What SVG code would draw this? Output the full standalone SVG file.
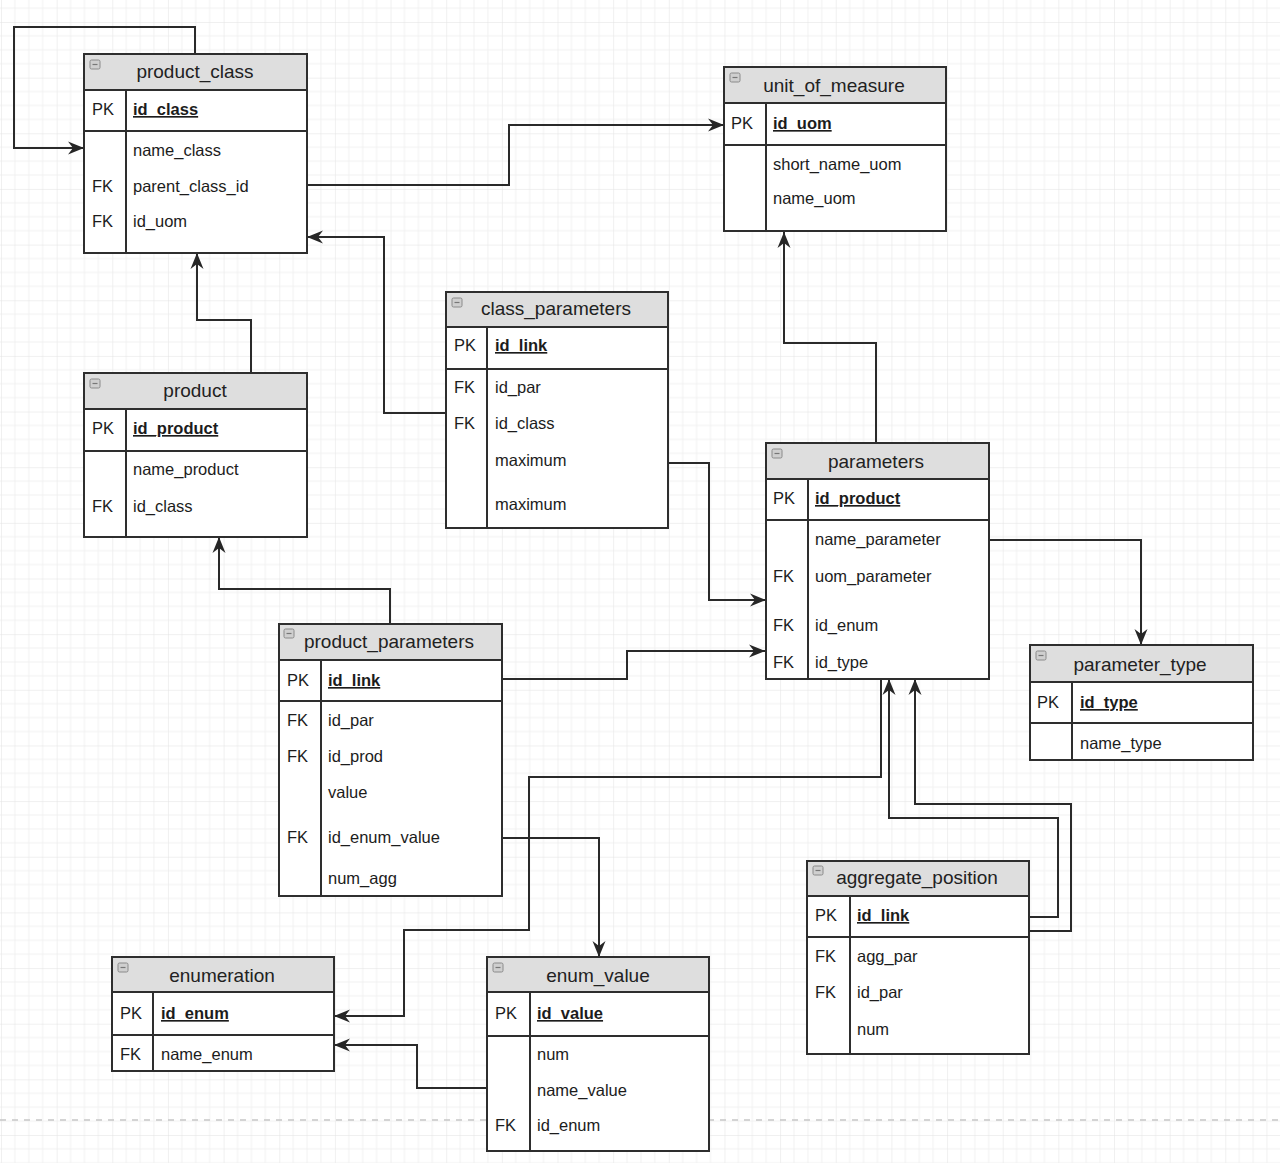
<svg xmlns="http://www.w3.org/2000/svg" width="1280" height="1163" viewBox="0 0 1280 1163">
<defs>
<pattern id="grid" patternUnits="userSpaceOnUse" x="1" y="22" width="55.65" height="55.65">
<path d="M13.9 0V55.65M27.8 0V55.65M41.7 0V55.65M0 13.9H55.65M0 27.8H55.65M0 41.7H55.65" stroke="#f1f1f1" stroke-width="1" fill="none"/>
<path d="M0 0V55.65M0 0H55.65" stroke="#e2e2e2" stroke-width="1" fill="none"/>
</pattern>
<marker id="arr" markerUnits="userSpaceOnUse" markerWidth="17" markerHeight="14" refX="16" refY="7" orient="auto">
<path d="M0,0.5 L16,7 L0,13.5 L5,7 Z" fill="#262626"/>
</marker>
<style>
.body{fill:#ffffff;stroke:none}
.hdr{fill:#dedede;stroke:none}
.frame{fill:none;stroke:#2e2e2e;stroke-width:2}
.ln{stroke:#2e2e2e;stroke-width:2;fill:none}
.icon{fill:#cfcfcf;stroke:#8a8a8a;stroke-width:1}
.iconm{stroke:#777;stroke-width:1.2}
.title{font-family:"Liberation Sans",Arial,sans-serif;font-size:19px;fill:#222;text-anchor:middle}
.f{font-family:"Liberation Sans",Arial,sans-serif;font-size:16.5px;fill:#1c1c1c}
.pk{font-weight:bold;text-decoration:underline}
.conn path{fill:none;stroke:#2a2a2a;stroke-width:2;marker-end:url(#arr)}
</style>
</defs>
<rect x="0" y="0" width="1280" height="1163" fill="#ffffff"/>
<rect x="0" y="0" width="1280" height="1163" fill="url(#grid)"/>
<line x1="0" y1="1120" x2="1280" y2="1120" stroke="#c6c6c6" stroke-width="1.6" stroke-dasharray="6 6"/>

<g id="connectors" class="conn">
<path d="M195 54V27H14V148H84"/>
<path d="M307 185H509V125H724"/>
<path d="M446 413H384V237H307"/>
<path d="M668 463H709V600H766"/>
<path d="M251 373V320H197V253"/>
<path d="M390 624V589H219V537"/>
<path d="M502 679H627V651H765"/>
<path d="M876 443V343H784V232"/>
<path d="M989 540H1141V645"/>
<path d="M881 679V777H529V930H404V1016H334"/>
<path d="M502 838H599V957"/>
<path d="M487 1088H417V1045H334"/>
<path d="M1029 917H1058V818H889V679"/>
<path d="M1029 931H1071V804H915V679"/>
</g>

<g id="product_class">
<rect class="body" x="84" y="54" width="223" height="199"/>
<rect class="hdr" x="84" y="54" width="223" height="36"/>
<rect class="frame" x="84" y="54" width="223" height="199"/>
<path class="ln" d="M84 90H307M84 131H307M126 90V253"/>
<rect class="icon" x="90" y="60" width="10" height="9" rx="1.5"/><line class="iconm" x1="92.5" y1="64.5" x2="97.5" y2="64.5"/>
<text class="title" x="195" y="78">product_class</text>
<text class="f" x="92" y="115">PK</text><text class="f pk" x="133" y="115">id_class</text>
<text class="f" x="133" y="156">name_class</text>
<text class="f" x="92" y="192">FK</text><text class="f" x="133" y="192">parent_class_id</text>
<text class="f" x="92" y="227">FK</text><text class="f" x="133" y="227">id_uom</text>
</g>

<g id="unit_of_measure">
<rect class="body" x="724" y="67" width="222" height="164"/>
<rect class="hdr" x="724" y="67" width="222" height="36"/>
<rect class="frame" x="724" y="67" width="222" height="164"/>
<path class="ln" d="M724 103H946M724 145H946M766 103V231"/>
<rect class="icon" x="730" y="73" width="10" height="9" rx="1.5"/><line class="iconm" x1="732.5" y1="77.5" x2="737.5" y2="77.5"/>
<text class="title" x="834" y="92">unit_of_measure</text>
<text class="f" x="731" y="129">PK</text><text class="f pk" x="773" y="129">id_uom</text>
<text class="f" x="773" y="170">short_name_uom</text>
<text class="f" x="773" y="204">name_uom</text>
</g>

<g id="class_parameters">
<rect class="body" x="446" y="292" width="222" height="236"/>
<rect class="hdr" x="446" y="292" width="222" height="35"/>
<rect class="frame" x="446" y="292" width="222" height="236"/>
<path class="ln" d="M446 327H668M446 369H668M487 327V528"/>
<rect class="icon" x="452" y="298" width="10" height="9" rx="1.5"/><line class="iconm" x1="454.5" y1="302.5" x2="459.5" y2="302.5"/>
<text class="title" x="556" y="315">class_parameters</text>
<text class="f" x="454" y="351">PK</text><text class="f pk" x="495" y="351">id_link</text>
<text class="f" x="454" y="393">FK</text><text class="f" x="495" y="393">id_par</text>
<text class="f" x="454" y="429">FK</text><text class="f" x="495" y="429">id_class</text>
<text class="f" x="495" y="466">maximum</text>
<text class="f" x="495" y="510">maximum</text>
</g>

<g id="product">
<rect class="body" x="84" y="373" width="223" height="164"/>
<rect class="hdr" x="84" y="373" width="223" height="36"/>
<rect class="frame" x="84" y="373" width="223" height="164"/>
<path class="ln" d="M84 409H307M84 451H307M126 409V537"/>
<rect class="icon" x="90" y="379" width="10" height="9" rx="1.5"/><line class="iconm" x1="92.5" y1="383.5" x2="97.5" y2="383.5"/>
<text class="title" x="195" y="397">product</text>
<text class="f" x="92" y="434">PK</text><text class="f pk" x="133" y="434">id_product</text>
<text class="f" x="133" y="475">name_product</text>
<text class="f" x="92" y="512">FK</text><text class="f" x="133" y="512">id_class</text>
</g>

<g id="parameters">
<rect class="body" x="766" y="443" width="223" height="236"/>
<rect class="hdr" x="766" y="443" width="223" height="36"/>
<rect class="frame" x="766" y="443" width="223" height="236"/>
<path class="ln" d="M766 479H989M766 520H989M808 479V679"/>
<rect class="icon" x="772" y="449" width="10" height="9" rx="1.5"/><line class="iconm" x1="774.5" y1="453.5" x2="779.5" y2="453.5"/>
<text class="title" x="876" y="468">parameters</text>
<text class="f" x="773" y="504">PK</text><text class="f pk" x="815" y="504">id_product</text>
<text class="f" x="815" y="545">name_parameter</text>
<text class="f" x="773" y="582">FK</text><text class="f" x="815" y="582">uom_parameter</text>
<text class="f" x="773" y="631">FK</text><text class="f" x="815" y="631">id_enum</text>
<text class="f" x="773" y="668">FK</text><text class="f" x="815" y="668">id_type</text>
</g>

<g id="parameter_type">
<rect class="body" x="1030" y="645" width="223" height="115"/>
<rect class="hdr" x="1030" y="645" width="223" height="37"/>
<rect class="frame" x="1030" y="645" width="223" height="115"/>
<path class="ln" d="M1030 682H1253M1030 723H1253M1072 682V760"/>
<rect class="icon" x="1036" y="651" width="10" height="9" rx="1.5"/><line class="iconm" x1="1038.5" y1="655.5" x2="1043.5" y2="655.5"/>
<text class="title" x="1140" y="671">parameter_type</text>
<text class="f" x="1037" y="708">PK</text><text class="f pk" x="1080" y="708">id_type</text>
<text class="f" x="1080" y="749">name_type</text>
</g>

<g id="product_parameters">
<rect class="body" x="279" y="624" width="223" height="272"/>
<rect class="hdr" x="279" y="624" width="223" height="36"/>
<rect class="frame" x="279" y="624" width="223" height="272"/>
<path class="ln" d="M279 660H502M279 701H502M321 660V896"/>
<rect class="icon" x="284" y="629" width="10" height="9" rx="1.5"/><line class="iconm" x1="286.5" y1="633.5" x2="291.5" y2="633.5"/>
<text class="title" x="389" y="648">product_parameters</text>
<text class="f" x="287" y="686">PK</text><text class="f pk" x="328" y="686">id_link</text>
<text class="f" x="287" y="726">FK</text><text class="f" x="328" y="726">id_par</text>
<text class="f" x="287" y="762">FK</text><text class="f" x="328" y="762">id_prod</text>
<text class="f" x="328" y="798">value</text>
<text class="f" x="287" y="843">FK</text><text class="f" x="328" y="843">id_enum_value</text>
<text class="f" x="328" y="884">num_agg</text>
</g>

<g id="aggregate_position">
<rect class="body" x="807" y="861" width="222" height="193"/>
<rect class="hdr" x="807" y="861" width="222" height="35"/>
<rect class="frame" x="807" y="861" width="222" height="193"/>
<path class="ln" d="M807 896H1029M807 937H1029M850 896V1054"/>
<rect class="icon" x="813" y="866" width="10" height="9" rx="1.5"/><line class="iconm" x1="815.5" y1="870.5" x2="820.5" y2="870.5"/>
<text class="title" x="917" y="884">aggregate_position</text>
<text class="f" x="815" y="921">PK</text><text class="f pk" x="857" y="921">id_link</text>
<text class="f" x="815" y="962">FK</text><text class="f" x="857" y="962">agg_par</text>
<text class="f" x="815" y="998">FK</text><text class="f" x="857" y="998">id_par</text>
<text class="f" x="857" y="1035">num</text>
</g>

<g id="enumeration">
<rect class="body" x="112" y="957" width="222" height="114"/>
<rect class="hdr" x="112" y="957" width="222" height="35"/>
<rect class="frame" x="112" y="957" width="222" height="114"/>
<path class="ln" d="M112 992H334M112 1035H334M153 992V1071"/>
<rect class="icon" x="118" y="963" width="10" height="9" rx="1.5"/><line class="iconm" x1="120.5" y1="967.5" x2="125.5" y2="967.5"/>
<text class="title" x="222" y="982">enumeration</text>
<text class="f" x="120" y="1019">PK</text><text class="f pk" x="161" y="1019">id_enum</text>
<text class="f" x="120" y="1060">FK</text><text class="f" x="161" y="1060">name_enum</text>
</g>

<g id="enum_value">
<rect class="body" x="487" y="957" width="222" height="194"/>
<rect class="hdr" x="487" y="957" width="222" height="35"/>
<rect class="frame" x="487" y="957" width="222" height="194"/>
<path class="ln" d="M487 992H709M487 1036H709M530 992V1151"/>
<rect class="icon" x="493" y="963" width="10" height="9" rx="1.5"/><line class="iconm" x1="495.5" y1="967.5" x2="500.5" y2="967.5"/>
<text class="title" x="598" y="982">enum_value</text>
<text class="f" x="495" y="1019">PK</text><text class="f pk" x="537" y="1019">id_value</text>
<text class="f" x="537" y="1060">num</text>
<text class="f" x="537" y="1096">name_value</text>
<text class="f" x="495" y="1131">FK</text><text class="f" x="537" y="1131">id_enum</text>
</g>
</svg>
